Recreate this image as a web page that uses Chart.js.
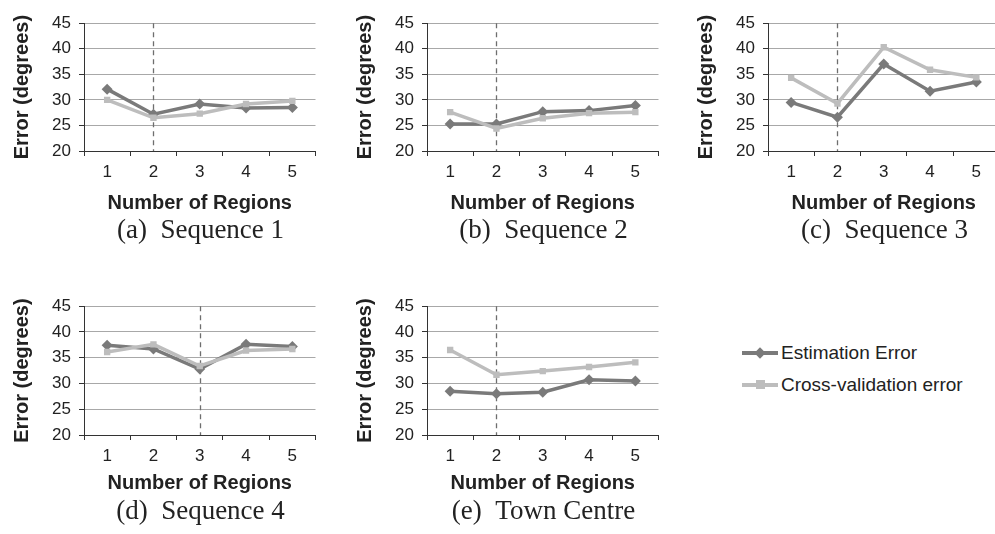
<!DOCTYPE html>
<html>
<head>
<meta charset="utf-8">
<script src="https://cdn.jsdelivr.net/npm/chart.js@4.4.1/dist/chart.umd.min.js"></script>
<style>
  html, body { margin: 0; padding: 0; background: #fff; }
  body { width: 995px; height: 534px; position: relative; overflow: hidden;
         font-family: "Liberation Sans", Arial, sans-serif; color: #222; }
  .panel { position: absolute; }
  .caption { position: absolute; transform: translate(-50%, -50%); white-space: pre;
             font-family: "Liberation Serif", "Times New Roman", serif; font-size: 27px;
             color: #222; }
  .legend-row { position: absolute; left: 742px; height: 22px; }
  .legend-row .line { position: absolute; left: 0; top: 9px; width: 36px; height: 4px; }
  .legend-row .mark { position: absolute; width: 9px; height: 9px; top: 6px; left: 14px; }
  .legend-row .mark.diamond { transform: rotate(45deg); width: 8px; height: 8px; top: 7px; left: 14px; }
  .legend-row .label { position: absolute; left: 39px; top: 0; line-height: 22px;
                       font-size: 19px; white-space: nowrap; color: #222; }
</style>
</head>
<body>
<script>
// --- Data ---
const regions = ['1', '2', '3', '4', '5'];
const yMin = 20, yMax = 45, yStep = 5;

const estSeq1 = [32.1, 27.2, 29.2, 28.4, 28.5];
const cvSeq1  = [30.0, 26.5, 27.3, 29.2, 29.8];
const estSeq2 = [25.3, 25.3, 27.7, 27.9, 28.9];
const cvSeq2  = [27.6, 24.4, 26.4, 27.4, 27.6];
const estSeq3 = [29.5, 26.6, 37.0, 31.7, 33.5];
const cvSeq3  = [34.3, 29.3, 40.3, 35.9, 34.4];
const estSeq4 = [37.4, 36.7, 32.8, 37.6, 37.2];
const cvSeq4  = [36.1, 37.6, 33.4, 36.4, 36.7];
const estTown = [28.5, 28.0, 28.3, 30.7, 30.5];
const cvTown  = [36.5, 31.7, 32.4, 33.2, 34.1];

const chosen   = ['2', '2', '2', '3', '2'];
const captions = ['(a)\u2002Sequence 1', '(b)\u2002Sequence 2', '(c)\u2002Sequence 3',
                  '(d)\u2002Sequence 4', '(e)\u2002Town Centre'];
const seriesNames = ['Estimation Error', 'Cross-validation error'];

// --- Style ---
const EST_COLOR = '#7a7a7a';
const CV_COLOR  = '#bdbdbd';
const GRID      = '#a8a8a8';
const AXIS      = '#333';
const TEXT      = '#222';
const FONT      = '"Liberation Sans", Arial, sans-serif';

const Y_AXIS_W = 84, PLOT_W = 233, PAD_TOP = 12, X_AXIS_H = 70;

// panel layout: plot-area left edge, top, height, title padding
const panels = [
  { est: estSeq1, cv: cvSeq1, left: 84,  top: 17,  h: 134, titlePad: 6 },
  { est: estSeq2, cv: cvSeq2, left: 427, top: 17,  h: 134, titlePad: 6 },
  { est: estSeq3, cv: cvSeq3, left: 768, top: 17,  h: 134, titlePad: 6 },
  { est: estSeq4, cv: cvSeq4, left: 84,  top: 300, h: 135, titlePad: 10 },
  { est: estTown, cv: cvTown, left: 427, top: 300, h: 135, titlePad: 10 },
];
const captionY = [229, 229, 229, 510, 510];

// dashed line at the chosen number of regions
const markLine = {
  id: 'markLine',
  beforeDatasetsDraw(chart, args, opts) {
    const { ctx, chartArea } = chart;
    const x = Math.round(chart.scales.x.getPixelForValue(regions.indexOf(opts.value))) + 0.5;
    ctx.save();
    ctx.strokeStyle = '#6e6e6e';
    ctx.lineWidth = 1.3;
    ctx.setLineDash([5, 4]);
    ctx.beginPath();
    ctx.moveTo(x, chartArea.top);
    ctx.lineTo(x, chartArea.bottom);
    ctx.stroke();
    ctx.restore();
  }
};

panels.forEach((p, i) => {
  const W = Y_AXIS_W + PLOT_W + 4;
  const H = PAD_TOP + p.h + X_AXIS_H;
  const wrap = document.createElement('div');
  wrap.className = 'panel';
  wrap.style.left = (p.left - Y_AXIS_W) + 'px';
  wrap.style.top  = (p.top - PAD_TOP) + 'px';
  const canvas = document.createElement('canvas');
  canvas.width = W;
  canvas.height = H;
  wrap.appendChild(canvas);
  document.body.appendChild(wrap);

  new Chart(canvas, {
    type: 'line',
    data: {
      labels: regions,
      datasets: [
        {
          label: seriesNames[0],
          data: p.est,
          borderColor: EST_COLOR,
          backgroundColor: EST_COLOR,
          borderWidth: 3.5,
          pointStyle: 'rectRot',
          pointRadius: 5.5,
          pointBorderWidth: 0,
          tension: 0,
          order: 2,
        },
        {
          label: seriesNames[1],
          data: p.cv,
          borderColor: CV_COLOR,
          backgroundColor: CV_COLOR,
          borderWidth: 3.5,
          pointStyle: 'rect',
          pointRadius: 4.5,
          pointBorderWidth: 0,
          tension: 0,
          order: 1,
        },
      ]
    },
    options: {
      responsive: false,
      animation: false,
      layout: { padding: { top: PAD_TOP, right: 4, left: 0, bottom: 0 } },
      plugins: {
        legend: { display: false },
        tooltip: { enabled: false },
        markLine: { value: chosen[i] },
      },
      scales: {
        x: {
          type: 'category',
          offset: true,
          grid: { offset: true, drawOnChartArea: false, tickLength: 5, tickColor: AXIS, tickWidth: 1 },
          border: { color: AXIS, width: 1 },
          ticks: { color: TEXT, font: { family: FONT, size: 17 }, padding: 6, maxRotation: 0, autoSkip: false },
          title: {
            display: true, text: 'Number of Regions', color: TEXT,
            font: { family: FONT, size: 20, weight: 'bold' },
            padding: { top: 0, bottom: p.titlePad },
          },
          afterFit(s) { s.height = X_AXIS_H; },
        },
        y: {
          min: yMin,
          max: yMax,
          grid: { color: GRID, lineWidth: 1, tickLength: 5, tickColor: AXIS },
          border: { color: AXIS, width: 1 },
          ticks: { stepSize: yStep, color: TEXT, font: { family: FONT, size: 17 }, padding: 8 },
          title: {
            display: true, text: 'Error (degrees)', color: TEXT,
            font: { family: FONT, size: 20, weight: 'bold' },
            padding: { top: 10, bottom: 0 },
          },
          afterFit(s) { s.width = Y_AXIS_W; },
        }
      }
    },
    plugins: [markLine]
  });

  const cap = document.createElement('div');
  cap.className = 'caption';
  cap.textContent = captions[i];
  cap.style.left = (p.left + PLOT_W / 2) + 'px';
  cap.style.top = captionY[i] + 'px';
  document.body.appendChild(cap);
});

// --- Legend ---
[[EST_COLOR, 'diamond', 342], [CV_COLOR, 'square', 374]].forEach(([color, shape, top], k) => {
  const row = document.createElement('div');
  row.className = 'legend-row';
  row.style.top = top + 'px';
  row.innerHTML = `<div class="line" style="background:${color}"></div>` +
                  `<div class="mark ${shape}" style="background:${color}"></div>` +
                  `<div class="label">${seriesNames[k]}</div>`;
  document.body.appendChild(row);
});
</script>
</body>
</html>
